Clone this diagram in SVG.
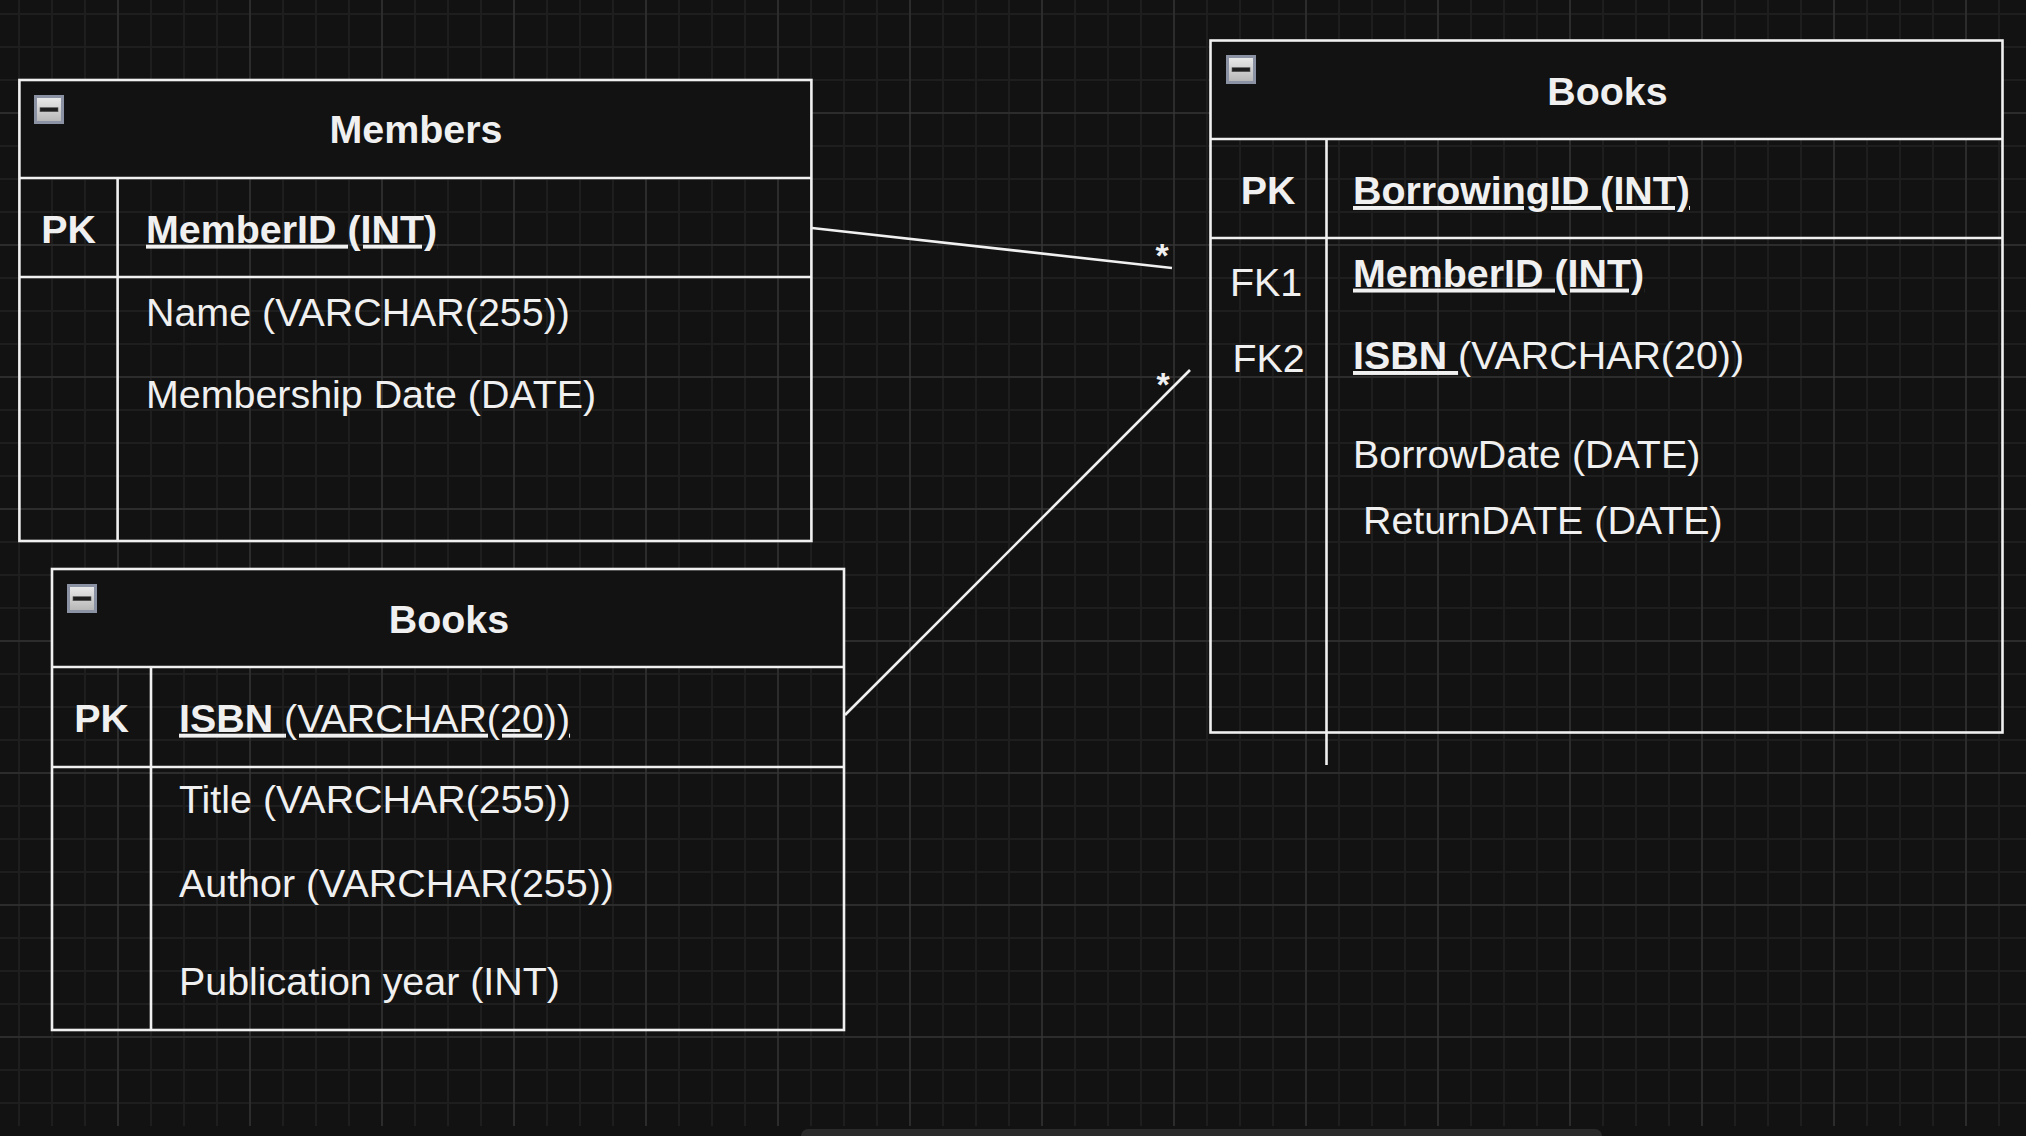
<svg xmlns="http://www.w3.org/2000/svg" width="2026" height="1136" viewBox="0 0 2026 1136">
<defs>
<pattern id="minor" patternUnits="userSpaceOnUse" x="18" y="13" width="33" height="33">
<rect x="0" y="0" width="2" height="33" fill="#1e1e1e"/>
<rect x="0" y="0" width="33" height="2" fill="#1e1e1e"/>
</pattern>
<pattern id="major" patternUnits="userSpaceOnUse" x="117.5" y="112.5" width="132" height="132">
<rect x="0" y="0" width="1" height="132" fill="#3a3a3a"/>
<rect x="0" y="0" width="132" height="1" fill="#3a3a3a"/>
</pattern>
<linearGradient id="iconGrad" x1="0" y1="0" x2="0" y2="1">
<stop offset="0" stop-color="#ececec"/>
<stop offset="1" stop-color="#b4b4b4"/>
</linearGradient>
<g id="icon">
<rect x="1.5" y="1.5" width="27" height="26" fill="url(#iconGrad)" stroke="#8a92a4" stroke-width="3"/>
<rect x="6" y="12.7" width="18" height="4" fill="#1e1e1e" stroke="#555" stroke-width="0.6"/>
</g>
</defs>
<style>
.tb{fill:none;stroke:#f0f0f0;stroke-width:2.6}
.hd{fill:#121212;stroke:none}
.ln{stroke:#f0f0f0;stroke-width:2.6;fill:none}
text{font-family:"Liberation Sans",Arial,Helvetica,sans-serif;fill:#f0f0f0;font-size:39.4px}
.b{font-weight:bold}
.u{text-decoration:underline}
.c{text-anchor:middle}
.ast{font-size:34px;font-weight:bold;text-anchor:middle}
</style>
<rect width="2026" height="1136" fill="#121212"/>
<rect width="2026" height="1126" fill="url(#minor)"/>
<rect width="2026" height="1126" fill="url(#major)"/>
<rect x="801" y="1129" width="801" height="16" rx="7" fill="#2a2a2a"/>

<g id="members">
<rect class="hd" x="19.4" y="80" width="792" height="98"/>
<rect class="tb" x="19.4" y="80" width="792" height="461"/>
<line class="ln" x1="19.4" y1="178" x2="811.4" y2="178"/>
<line class="ln" x1="19.4" y1="277" x2="811.4" y2="277"/>
<line class="ln" x1="117.6" y1="178" x2="117.6" y2="541"/>
<use href="#icon" x="34" y="95"/>
<text class="b c" x="416" y="143">Members</text>
<text class="b c" x="68.5" y="242.7">PK</text>
<text class="b u" x="146" y="242.7">MemberID (INT)</text>
<text x="146" y="325.7">Name (VARCHAR(255))</text>
<text x="146" y="407.7">Membership Date (DATE)</text>
</g>

<g id="books-left">
<rect class="hd" x="52" y="569" width="792" height="98"/>
<rect class="tb" x="52" y="569" width="792" height="461"/>
<line class="ln" x1="52" y1="667" x2="844" y2="667"/>
<line class="ln" x1="52" y1="767" x2="844" y2="767"/>
<line class="ln" x1="151" y1="667" x2="151" y2="1030"/>
<use href="#icon" x="67" y="584"/>
<text class="b c" x="449" y="632.5">Books</text>
<text class="b c" x="101.5" y="731.7">PK</text>
<text class="u" x="179" y="731.7"><tspan class="b">ISBN </tspan>(VARCHAR(20))</text>
<text x="179" y="813.3">Title (VARCHAR(255))</text>
<text x="179" y="896.7">Author (VARCHAR(255))</text>
<text x="179" y="995">Publication year (INT)</text>
</g>

<g id="books-right">
<rect class="hd" x="1210.5" y="40.5" width="792" height="98.5"/>
<rect class="tb" x="1210.5" y="40.5" width="792" height="692"/>
<line class="ln" x1="1210.5" y1="139" x2="2002.5" y2="139"/>
<line class="ln" x1="1210.5" y1="238" x2="2002.5" y2="238"/>
<line class="ln" x1="1326.5" y1="139" x2="1326.5" y2="765"/>
<use href="#icon" x="1226" y="55"/>
<text class="b c" x="1607.5" y="104.8">Books</text>
<text class="b c" x="1268" y="204">PK</text>
<text class="b u" x="1353" y="204">BorrowingID (INT)</text>
<text x="1230" y="295.5">FK1</text>
<text class="b u" x="1353" y="286.6">MemberID (INT)</text>
<text x="1232.5" y="372">FK2</text>
<text x="1353" y="369"><tspan class="b u">ISBN </tspan>(VARCHAR(20))</text>
<text x="1353" y="468">BorrowDate (DATE)</text>
<text x="1363" y="534">ReturnDATE (DATE)</text>
</g>

<g id="connectors">
<line class="ln" x1="812" y1="228" x2="1172" y2="268"/>
<text class="ast" x="1162" y="266.5">*</text>
<line class="ln" x1="845" y1="715" x2="1190" y2="370"/>
<text class="ast" x="1163" y="395.5">*</text>
</g>
</svg>
